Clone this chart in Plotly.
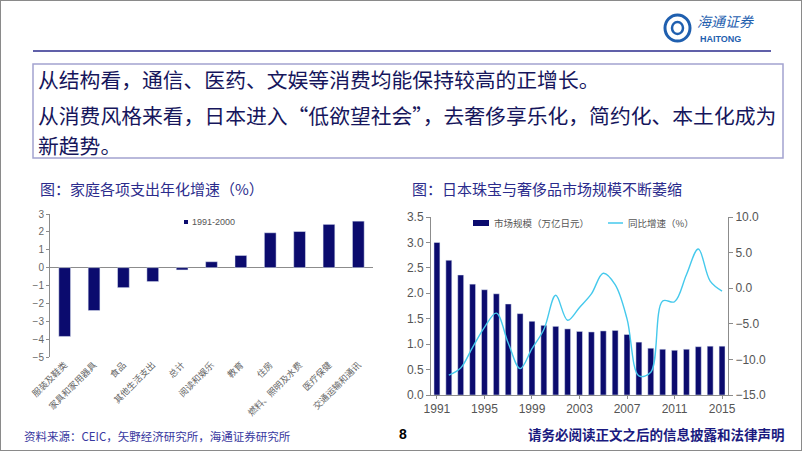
import plotly.graph_objects as go

W, H = 802, 451

# left chart: household spending growth by item
spend_cats = ["服装及鞋类", "家具和家用器具", "食品", "其他生活支出", "总计", "阅读和娱乐",
              "教育", "住房", "燃料、照明及水费", "医疗保健", "交通运输和通讯"]
spend_growth = [-3.85, -2.4, -1.12, -0.78, -0.13, 0.33, 0.68, 1.95, 2.02, 2.42, 2.6]
spend_period = "1991-2000"

# right chart: jewellery / luxury market size
years = list(range(1991, 2016))
market_size = [3.0, 2.65, 2.36, 2.18, 2.07, 1.99, 1.79, 1.60, 1.45, 1.37, 1.35, 1.30, 1.25,
               1.24, 1.26, 1.27, 1.19, 1.04, 0.92, 0.90, 0.88, 0.90, 0.95, 0.96, 0.96]
yoy_years = years[1:]
yoy_growth = [-12.2, -11.2, -8.3, -5.5, -3.5, -7.7, -11.3, -8.5, -5.8, -1.0, -4.5, -2.7,
              -0.8, 2.1, 0.5, -4.3, -12.3, -11.8, -1.8, -1.9, 1.9, 5.5, 1.0, -0.4]
year_ticks = [1991, 1995, 1999, 2003, 2007, 2011, 2015]

NAVY = "#0B0B6E"
CYAN = "#45C9EC"
AXIS = "#8C8C8C"
TICK = "#555555"
CJK = "Noto Sans CJK SC"


def px(x):
    return x / W


def py(y):
    return 1 - y / H


fig = go.Figure()
fig.add_trace(go.Bar(x=spend_cats, y=spend_growth, marker_color=NAVY, width=0.4,
                     xaxis="x", yaxis="y", showlegend=False))
fig.add_trace(go.Bar(x=years, y=market_size, marker_color=NAVY, width=0.5,
                     xaxis="x2", yaxis="y2", showlegend=False))
fig.add_trace(go.Scatter(x=yoy_years, y=yoy_growth, mode="lines",
                         line=dict(color=CYAN, width=1.4, shape="spline", smoothing=1.0),
                         xaxis="x2", yaxis="y3", showlegend=False))

fig.update_layout(
    width=W, height=H, margin=dict(l=0, r=0, t=0, b=0, autoexpand=False),
    paper_bgcolor="white", plot_bgcolor="rgba(0,0,0,0)",
    font=dict(family="Arial, " + CJK, color=TICK),
    xaxis=dict(domain=[px(50), px(373)], showline=False, ticks="", tickangle=-45,
               tickfont=dict(size=9, family=CJK, color="#666666"), anchor="y",
               automargin=False),
    yaxis=dict(domain=[py(357), py(214)], range=[-5, 3], dtick=1, showgrid=False,
               showline=True, linecolor=AXIS, ticks="outside", ticklen=3, tickcolor=AXIS,
               zeroline=True, zerolinecolor=AXIS, zerolinewidth=1,
               tickfont=dict(size=10, color="#666666"), anchor="x", automargin=False),
    xaxis2=dict(domain=[px(431), px(728)], range=[1990.5, 2015.5], tickvals=year_ticks,
                showline=True, linecolor=AXIS, ticks="outside", ticklen=3, tickcolor=AXIS,
                showgrid=False, zeroline=False, tickfont=dict(size=12), anchor="y2",
                automargin=False),
    yaxis2=dict(domain=[py(395), py(217)], range=[0, 3.5], dtick=0.5, tickformat=".1f",
                showline=True, linecolor=AXIS, ticks="outside", ticklen=4, tickcolor=AXIS,
                showgrid=False, zeroline=False, tickfont=dict(size=12), anchor="x2",
                automargin=False),
    yaxis3=dict(range=[-15, 10], dtick=5, tickformat=".1f", overlaying="y2", side="right",
                showline=True, linecolor=AXIS, ticks="outside", ticklen=4, tickcolor=AXIS,
                showgrid=False, zeroline=False, tickfont=dict(size=12), anchor="x2",
                automargin=False),
)

shapes = [
    dict(type="rect", xref="paper", yref="paper", x0=0, x1=1, y0=0, y1=1,
         line=dict(color="#8A8A8A", width=2)),
    dict(type="line", xref="paper", yref="paper", x0=px(33), x1=px(771), y0=py(51), y1=py(51),
         line=dict(color="#2B2B8C", width=1.5)),
    dict(type="rect", xref="paper", yref="paper", x0=px(33), x1=px(783), y0=py(158), y1=py(64),
         line=dict(color="#A3A3D0", width=1.5)),
    # logo emblem
    dict(type="circle", xref="paper", yref="paper", x0=px(665), x1=px(690), y0=py(41), y1=py(15),
         line=dict(color="#1F5FAF", width=3)),
    dict(type="circle", xref="paper", yref="paper", x0=px(672), x1=px(683), y0=py(34), y1=py(22),
         line=dict(color="#1F5FAF", width=2.5)),
    # legends
    dict(type="rect", xref="paper", yref="paper", x0=px(184), x1=px(188), y0=py(224), y1=py(220),
         fillcolor=NAVY, line=dict(width=0)),
    dict(type="rect", xref="paper", yref="paper", x0=px(473), x1=px(489), y0=py(226), y1=py(220),
         fillcolor=NAVY, line=dict(width=0)),
    dict(type="line", xref="paper", yref="paper", x0=px(608), x1=px(623), y0=py(223), y1=py(223),
         line=dict(color=CYAN, width=1.5)),
]
fig.update_layout(shapes=shapes)


def note(x, y, text, size, color, anchor="left", bold=False, family=CJK):
    if bold:
        text = "<b>" + text + "</b>"
    fig.add_annotation(x=px(x), y=py(y), xref="paper", yref="paper", text=text,
                       showarrow=False, xanchor=anchor, yanchor="middle", align="left",
                       font=dict(size=size, color=color, family=family))


TXT = "#16165C"
note(36, 79, "从结构看，通信、医药、文娱等消费均能保持较高的正增长。", 20.8, TXT)
note(36, 115, "从消费风格来看，日本进入“低欲望社会”，去奢侈享乐化，简约化、本土化成为", 20.8, TXT)
note(36, 145, "新趋势。", 20.8, TXT)

note(38, 188, "图：家庭各项支出年化增速（%）", 15, "#2B2B8C")
note(410, 188, "图：日本珠宝与奢侈品市场规模不断萎缩", 15, "#2B2B8C")

note(190, 222, spend_period, 9, "#555555", family="Arial")
note(492, 223, "市场规模（万亿日元）", 9.5, "#555555")
note(626, 223, "同比增速（%）", 9.5, "#555555")

note(22, 436, "资料来源：CEIC，矢野经济研究所，海通证券研究所", 11.5, "#3838A0")
note(403, 434, "8", 14, "#000000", anchor="center", bold=True, family="Arial")
note(787, 434, "请务必阅读正文之后的信息披露和法律声明", 13.5, "#1A1A80", anchor="right", bold=True)

note(725, 21, "<i>海通证券</i>", 14, "#1F5FAF", anchor="center")
note(720, 39, "<b>HAITONG</b>", 9, "#1F5FAF", anchor="center", family="Arial")

# page body has a default 8px margin; drop it so the figure sits at the window origin
fig.write_html("out.html", config={"displayModeBar": False},
               post_script="document.body.style.margin = '0';")
